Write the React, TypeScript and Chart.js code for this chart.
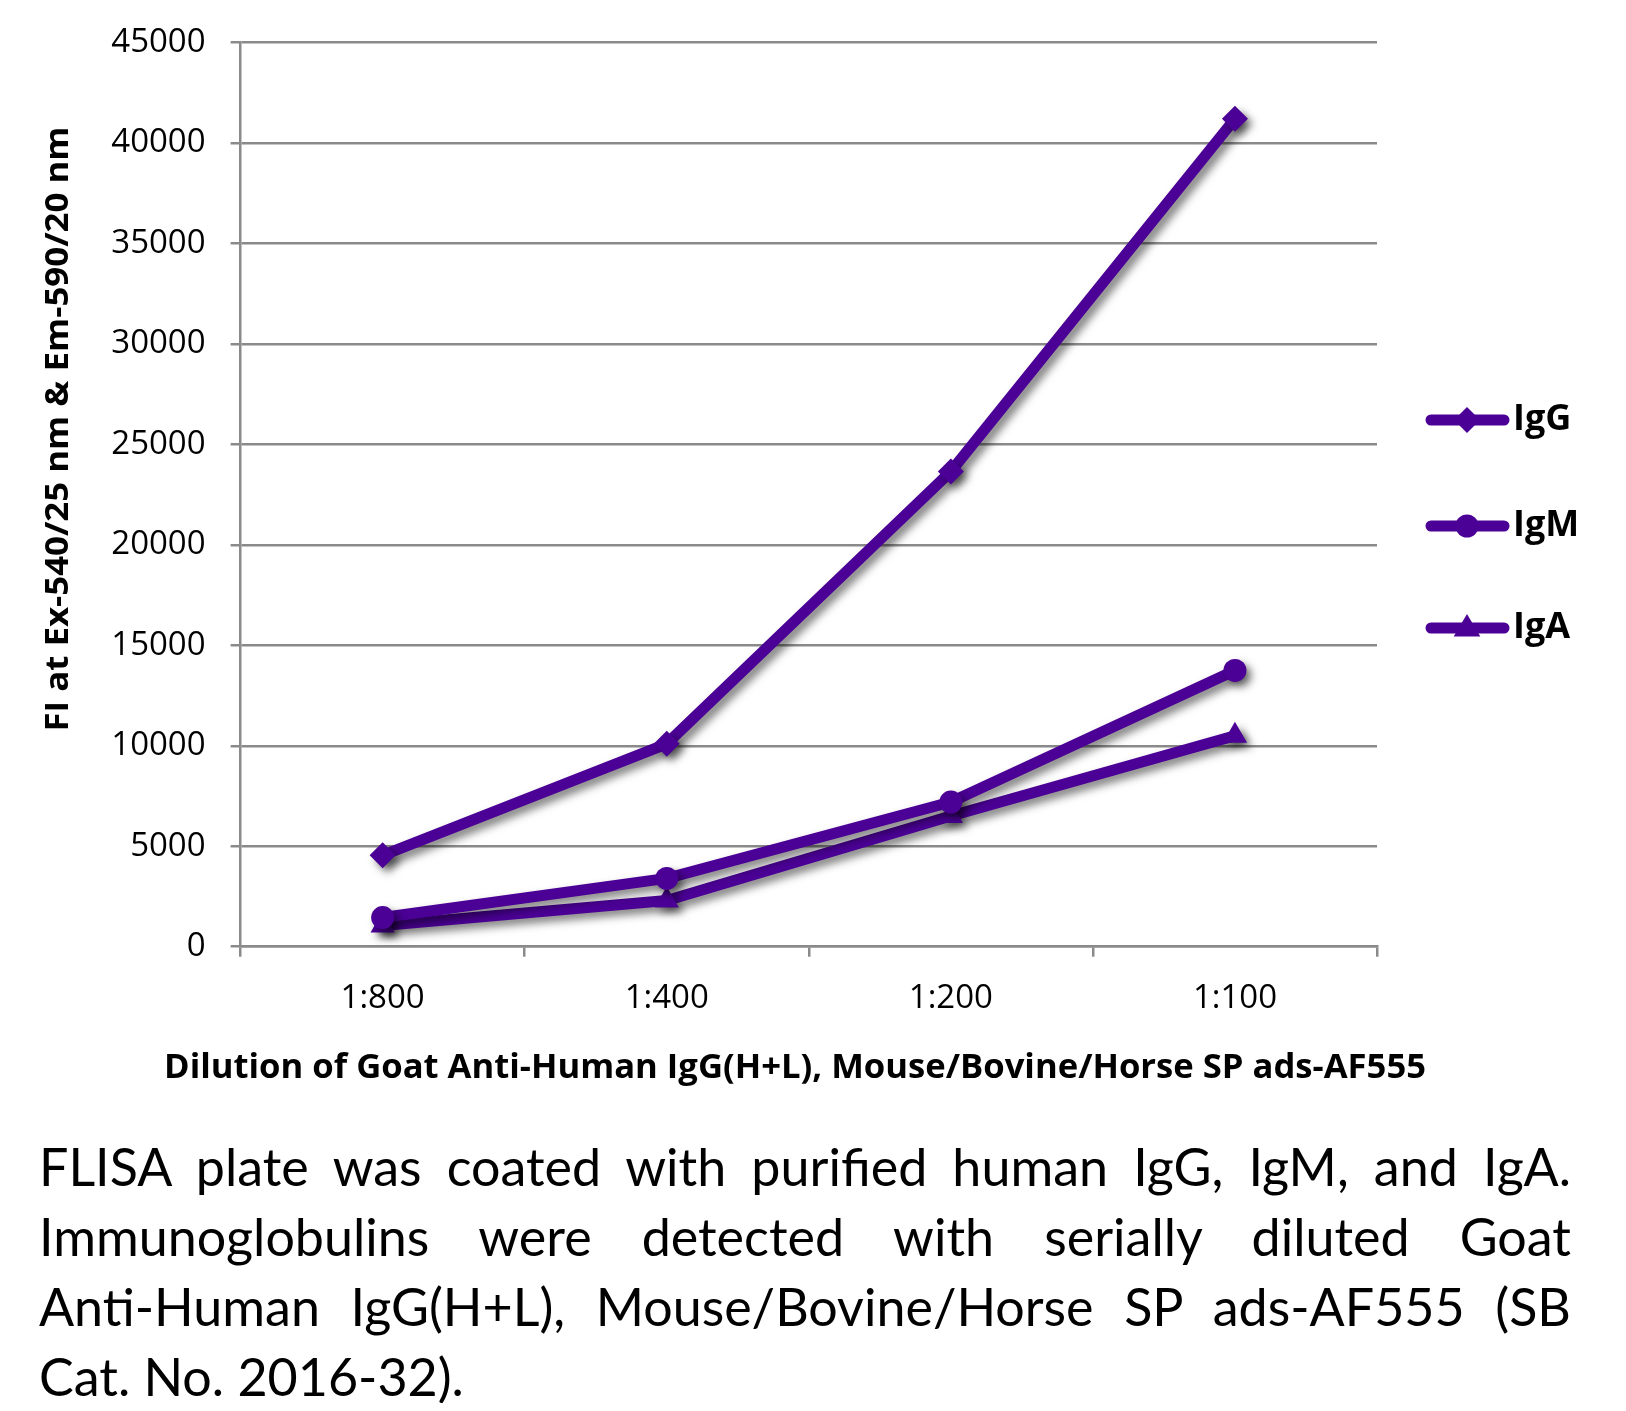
import React, { useEffect, useRef } from 'react';
import { Chart, registerables } from 'chart.js';

Chart.register(...registerables);

// ---- data ----
const CATEGORIES = ['1:800', '1:400', '1:200', '1:100'];
const SERIES_NAMES = ['IgG', 'IgM', 'IgA'];
const IGG_VALUES = [4550, 10100, 23650, 41200];
const IGM_VALUES = [1450, 3400, 7200, 13750];
const IGA_VALUES = [1050, 2300, 6500, 10500];
const Y_MIN = 0;
const Y_MAX = 45000;
const Y_STEP = 5000;
const X_TITLE = 'Dilution of Goat Anti-Human IgG(H+L), Mouse/Bovine/Horse SP ads-AF555';
const Y_TITLE = 'FI at Ex-540/25 nm & Em-590/20 nm';
const CAPTION_LINES = [
  'FLISA plate was coated with purified human IgG, IgM, and IgA.',
  'Immunoglobulins were detected with serially diluted Goat',
  'Anti-Human IgG(H+L), Mouse/Bovine/Horse SP ads-AF555 (SB',
  'Cat. No. 2016-32).',
];

// ---- style ----
const COLOR = '#4B0096';
const GRID = '#8a8a8a';
const W = 1610;
const H = 1090;
const FONT = '"Open Sans", "Noto Sans", sans-serif';
const POINT_STYLES = ['rectRot', 'circle', 'triangle'];
const POINT_RADII = [13, 11.5, 14];

function drawFitted(ctx: CanvasRenderingContext2D, text: string, x: number, y: number, width: number, font: string, rot: number) {
  ctx.save();
  ctx.font = font;
  ctx.fillStyle = '#000';
  ctx.textAlign = 'center';
  ctx.textBaseline = 'middle';
  ctx.translate(x, y);
  ctx.rotate(rot);
  const m = ctx.measureText(text).width;
  ctx.scale(width / m, 1);
  ctx.fillText(text, 0, 0);
  ctx.restore();
}

function drawMarker(ctx: CanvasRenderingContext2D, style: string, x: number, y: number, r: number) {
  ctx.beginPath();
  if (style === 'rectRot') {
    ctx.moveTo(x, y - r);
    ctx.lineTo(x + r, y);
    ctx.lineTo(x, y + r);
    ctx.lineTo(x - r, y);
  } else if (style === 'circle') {
    ctx.arc(x, y, r, 0, Math.PI * 2);
  } else {
    ctx.moveTo(x, y - r);
    ctx.lineTo(x + r * 0.95, y + r * 0.6);
    ctx.lineTo(x - r * 0.95, y + r * 0.6);
  }
  ctx.closePath();
  ctx.fill();
}

const shadowPlugin = {
  id: 'shadowPlugin',
  beforeDatasetDraw(chart: any) {
    const ctx = chart.ctx;
    ctx.save();
    ctx.shadowColor = 'rgba(0,0,0,0.5)';
    ctx.shadowBlur = 8;
    ctx.shadowOffsetX = 5;
    ctx.shadowOffsetY = 5;
  },
  afterDatasetDraw(chart: any) {
    chart.ctx.restore();
  },
};

const LEGEND_Y = [412, 518, 620];

const annotPlugin = {
  id: 'annotPlugin',
  afterDraw(chart: any) {
    const ctx: CanvasRenderingContext2D = chart.ctx;
    drawFitted(ctx, Y_TITLE, 51, 421, 605, `bold 32px ${FONT}`, -Math.PI / 2);
    drawFitted(ctx, X_TITLE, 787, 1060, 1262, `bold 34px ${FONT}`, 0);
    chart.data.datasets.forEach((ds: any, i: number) => {
      const y = LEGEND_Y[i];
      ctx.save();
      ctx.strokeStyle = COLOR;
      ctx.fillStyle = COLOR;
      ctx.lineWidth = 11;
      ctx.lineCap = 'round';
      ctx.beginPath();
      ctx.moveTo(1423, y);
      ctx.lineTo(1496, y);
      ctx.stroke();
      drawMarker(ctx, POINT_STYLES[i], 1459, y, POINT_RADII[i]);
      ctx.fillStyle = '#000';
      ctx.font = `bold 36px ${FONT}`;
      ctx.textAlign = 'left';
      ctx.textBaseline = 'middle';
      ctx.fillText(ds.label, 1505, y);
      ctx.restore();
    });
  },
};

function ChartView() {
  const ref = useRef<HTMLCanvasElement | null>(null);
  useEffect(() => {
    if (!ref.current) return;
    const seriesValues = [IGG_VALUES, IGM_VALUES, IGA_VALUES];
    const chart = new Chart(ref.current, {
      type: 'line',
      data: {
        labels: CATEGORIES,
        datasets: SERIES_NAMES.map((name, i) => ({
          label: name,
          data: seriesValues[i],
          borderColor: COLOR,
          backgroundColor: COLOR,
          borderWidth: 11,
          borderJoinStyle: 'round' as const,
          borderCapStyle: 'round' as const,
          pointStyle: POINT_STYLES[i] as any,
          pointRadius: POINT_RADII[i],
          pointBorderWidth: 0,
          pointBackgroundColor: COLOR,
          tension: 0,
          fill: false,
        })),
      },
      options: {
        responsive: false,
        animation: false,
        layout: { padding: { left: 0, top: 34.5, right: 241, bottom: 0 } },
        plugins: {
          legend: { display: false },
          tooltip: { enabled: false },
          title: { display: false },
        },
        scales: {
          x: {
            type: 'category',
            offset: true,
            grid: {
              offset: true,
              drawOnChartArea: false,
              drawTicks: true,
              tickLength: 10,
              color: GRID,
              lineWidth: 2.5,
            },
            border: { color: GRID, width: 2.5 },
            ticks: {
              color: '#000',
              padding: 22,
              font: { family: FONT, size: 33 },
            },
            afterFit: (scale: any) => {
              scale.height = 151.3;
              scale.paddingLeft = 0;
              scale.paddingRight = 0;
            },
          },
          y: {
            min: Y_MIN,
            max: Y_MAX,
            grid: {
              color: GRID,
              lineWidth: 2.5,
              tickLength: 10,
            },
            border: { color: GRID, width: 2.5 },
            ticks: {
              stepSize: Y_STEP,
              color: '#000',
              padding: 25,
              font: { family: FONT, size: 33 },
              callback: (v: any) => String(v),
            },
            afterFit: (scale: any) => {
              scale.width = 232.6;
              scale.paddingTop = 0;
              scale.paddingBottom = 0;
            },
          },
        },
      },
      plugins: [shadowPlugin, annotPlugin],
    });
    return () => chart.destroy();
  }, []);
  return <canvas ref={ref} width={W} height={H} style={{ display: 'block', width: W, height: H }} />;
}

export default function App() {
  return (
    <div style={{ position: 'relative', width: W, height: 1395 }}>
      <ChartView />
      <div
        style={{
          position: 'absolute',
          left: 31,
          top: 1123,
          width: 1532,
          fontFamily: 'Lato, "Open Sans", sans-serif',
          fontSize: 52,
          lineHeight: '70px',
          color: '#000',
        }}
      >
        {CAPTION_LINES.map((line, i) => (
          <div
            key={i}
            style={{
              whiteSpace: 'nowrap',
              textAlign: 'justify',
              textAlignLast: i < CAPTION_LINES.length - 1 ? 'justify' : 'left',
            }}
          >
            {line}
          </div>
        ))}
      </div>
    </div>
  );
}
